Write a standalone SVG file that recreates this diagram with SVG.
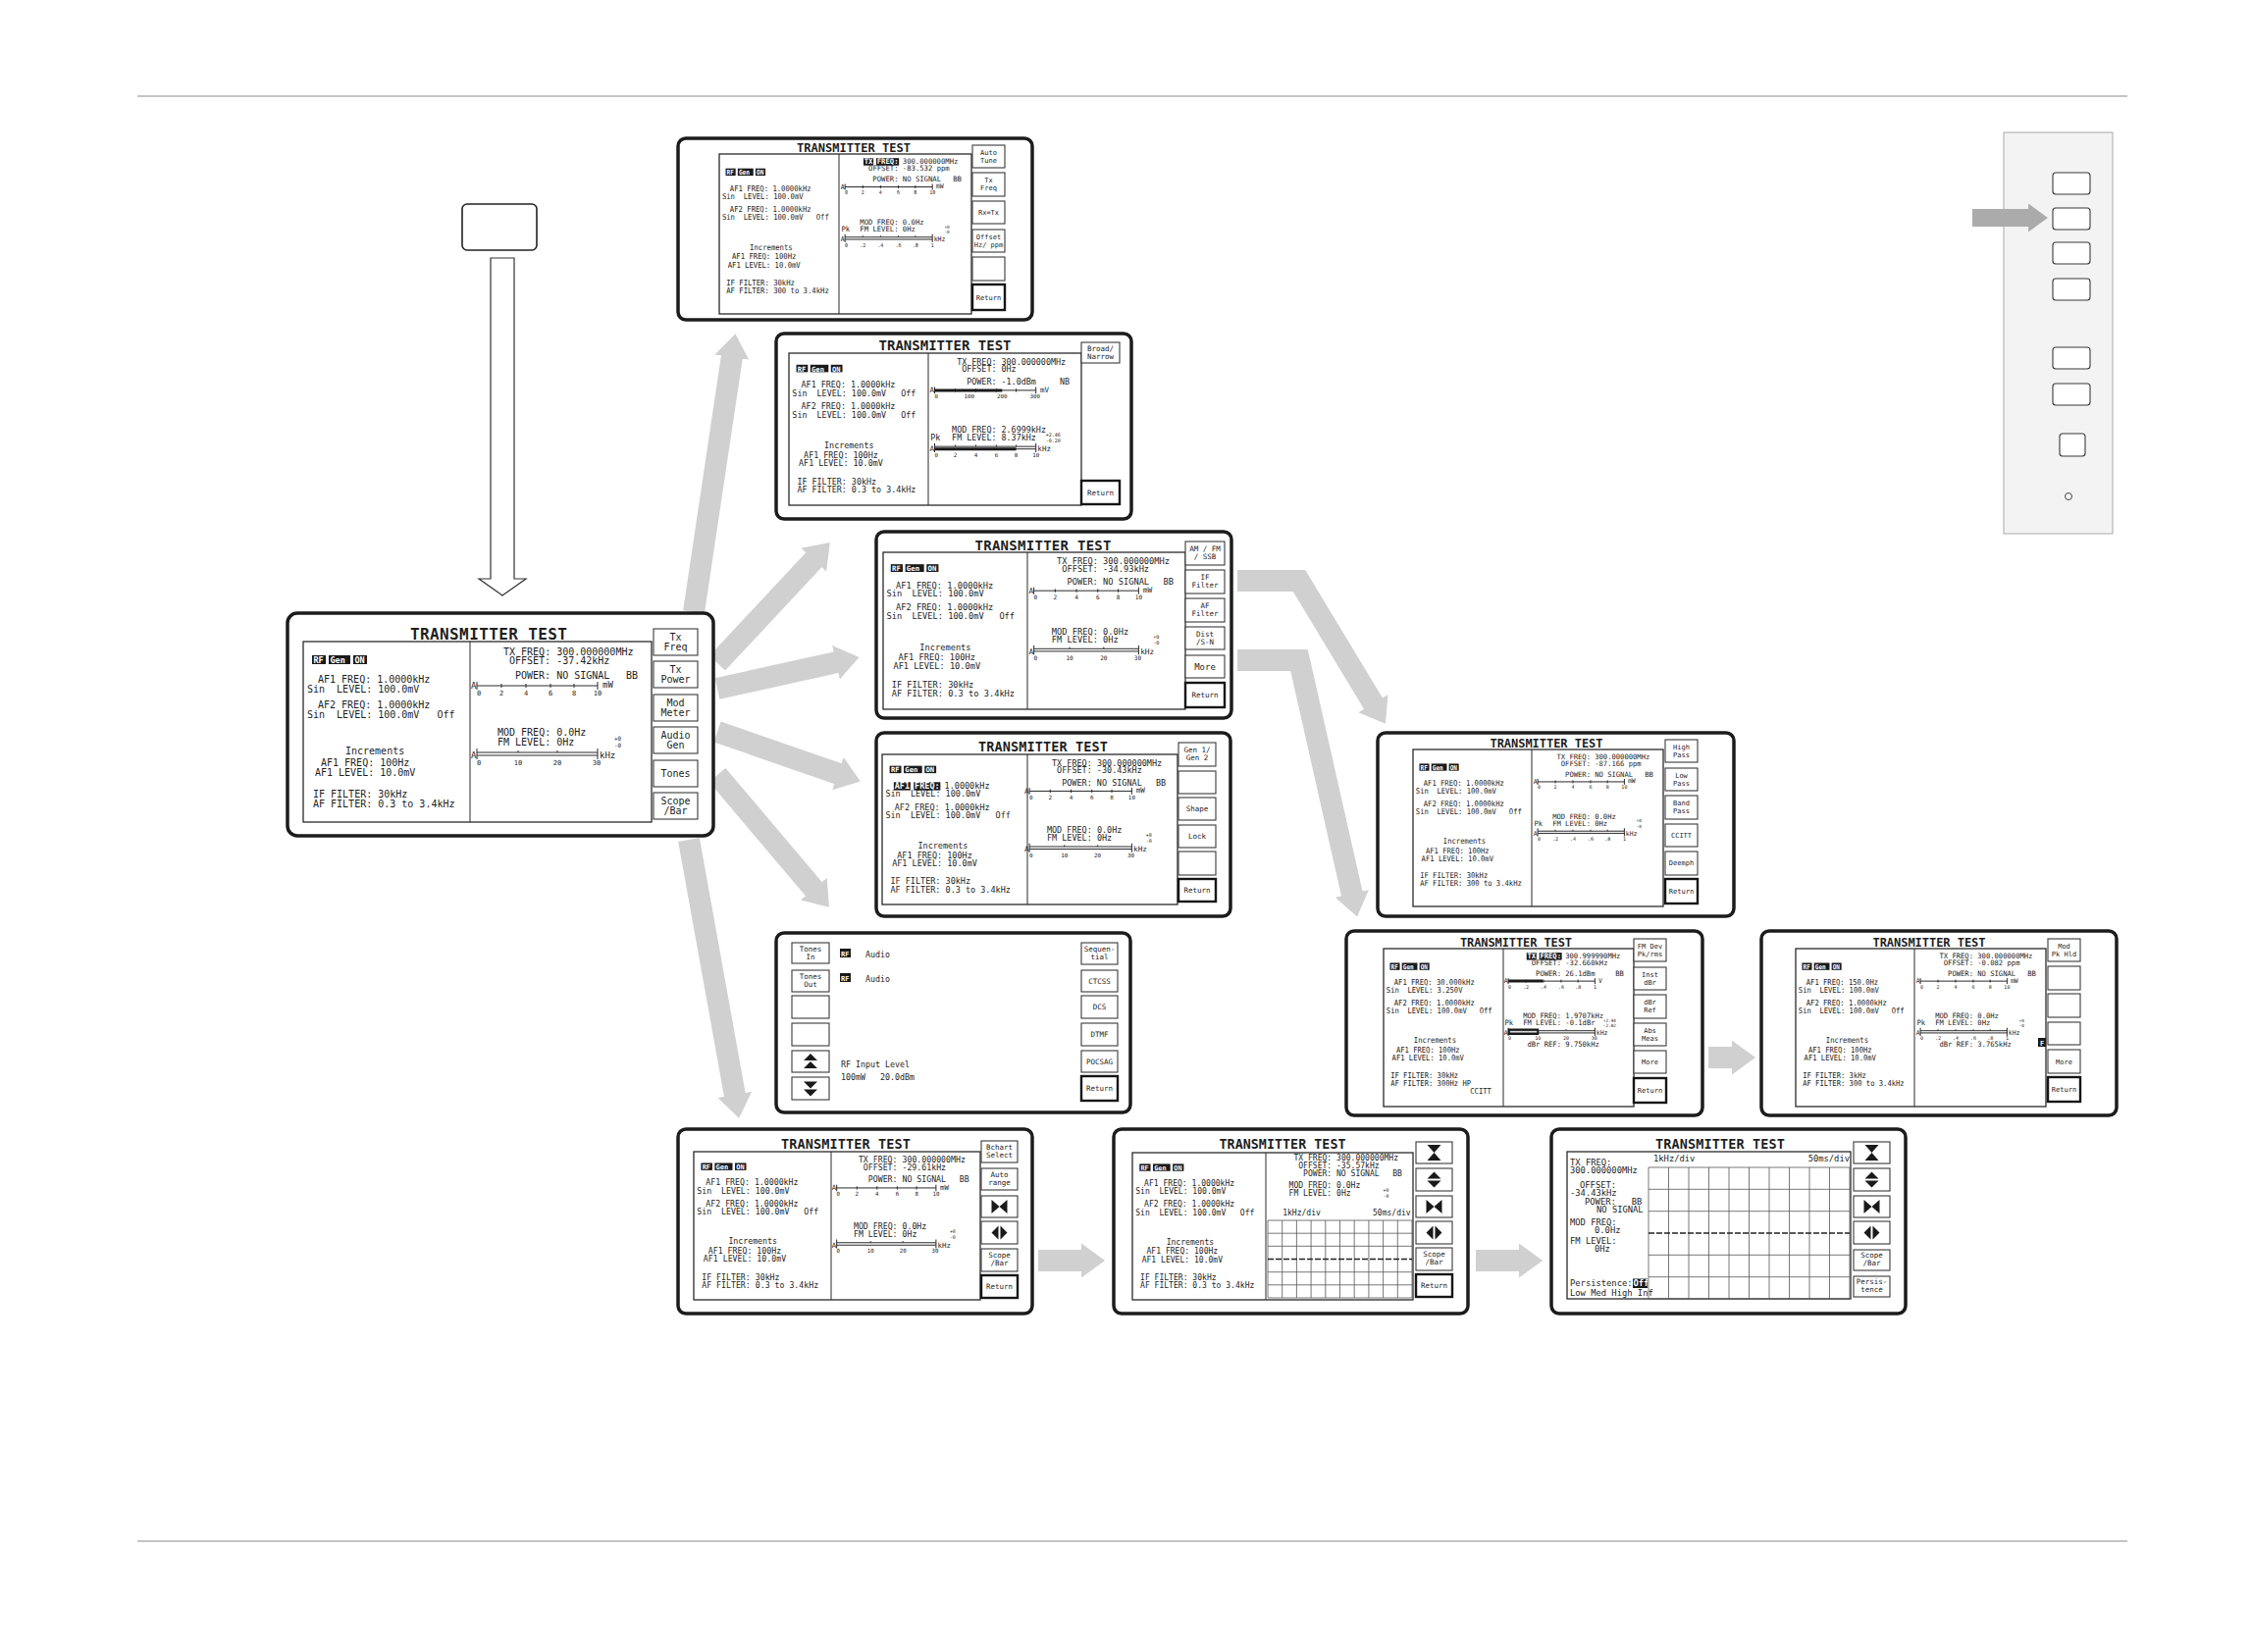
<svg xmlns="http://www.w3.org/2000/svg" width="2294" height="1684" viewBox="0 0 2294 1684">
<style>
text{font-family:"DejaVu Sans Mono","Liberation Mono",monospace;fill:#1e1e1e;white-space:pre}
.frame{fill:#fff;stroke:#1c1c1c;stroke-width:3.5}
.panel{fill:none;stroke:#2a2a2a;stroke-width:1.3}
.btn{fill:#fff;stroke:#3a3a3a;stroke-width:1.1}
.ret{fill:#fff;stroke:#151515;stroke-width:2.4}
.ttl{font-weight:bold;text-anchor:middle}
.t{font-size:10px}
.t9{font-size:8.8px}
.s{font-size:7px;text-anchor:middle}
.u{font-size:9px}
.tiny{font-size:6px}
.inv{fill:#1a1a1a}
.w{fill:#fff;font-weight:bold}
.bt{text-anchor:middle}
.f10{font-size:10px}.f9{font-size:9px}.f75{font-size:7.5px}.f7{font-size:7px}
.ln{stroke:#2a2a2a;stroke-width:1;fill:none;vector-effect:non-scaling-stroke}
.thk{stroke:#1a1a1a;stroke-width:3;fill:none;vector-effect:non-scaling-stroke}
.grid{stroke:#555;stroke-width:0.8;fill:none}
.trace{stroke:#222;stroke-width:1.3;stroke-dasharray:6 2;fill:none}
.ico{fill:#1a1a1a}
.garr{stroke:#d0d0d0;fill:none;stroke-linejoin:miter}
.rule{stroke:#8a8a8a;stroke-width:1}
</style>
<defs>
<marker id="gh" viewBox="0 0 2 2" refX="0.05" refY="1" markerWidth="2" markerHeight="2" orient="auto" markerUnits="strokeWidth">
<path d="M0,0.2 L1.1,1 L0,1.8 Z" fill="#d0d0d0"/>
</marker>
<marker id="gh2" viewBox="0 0 2 2" refX="0.05" refY="1" markerWidth="2" markerHeight="2" orient="auto" markerUnits="strokeWidth">
<path d="M0,0.2 L1.1,1 L0,1.8 Z" fill="#ababab"/>
</marker>
<g id="rfgen">
<rect class="inv" x="9" y="14" width="14" height="9"/>
<rect class="inv" x="26" y="14" width="22" height="9"/>
<rect class="inv" x="51" y="14" width="14" height="9"/>
<text class="w" style="font-size:8.5px" y="22"><tspan x="10.5">RF</tspan><tspan x="27.5">Gen</tspan><tspan x="52.5">ON</tspan></text>
</g>
<g id="af1"><text class="t" x="15" y="42">AF1 FREQ: 1.0000kHz</text><text class="t" x="4" y="52">Sin  LEVEL: 100.0mV</text></g>
<g id="af2"><text class="t" x="15" y="68">AF2 FREQ: 1.0000kHz</text><text class="t" x="4" y="78">Sin  LEVEL: 100.0mV   Off</text></g>
<g id="incr">
<text class="t" x="43" y="115">Increments</text>
<text class="t" x="18" y="127">AF1 FREQ: 100Hz</text>
<text class="t" x="12" y="137">AF1 LEVEL: 10.0mV</text>
</g>
<g id="iff"><text class="t" x="10" y="159">IF FILTER: 30kHz</text></g>
<g id="aff"><text class="t" x="10" y="169">AF FILTER: 0.3 to 3.4kHz</text></g>
<g id="txf"><text class="t" x="204" y="14">TX FREQ: 300.000000MHz</text></g>
<g id="pwr"><text class="t" x="216" y="38">POWER: NO SIGNAL</text><text class="t" x="329" y="38">BB</text></g>
<g id="pm0"><text class="tiny" x="317" y="101">+0</text><text class="tiny" x="317" y="108">-0</text></g>
<g id="mod0"><text class="t" x="198" y="96">MOD FREQ: 0.0Hz</text><text class="t" x="198" y="106">FM LEVEL: 0Hz</text><use href="#pm0"/></g>
<g id="bar1">
<text class="u" x="171" y="48">A</text>
<path class="ln" d="M177 45H300M177 41V49M300 41V49M202 43V47M227 43V47M252 43V47M276 43V47"/>
</g>
<g id="bar2">
<text class="u" x="171" y="119">A</text>
<path class="ln" d="M177 113H300M177 116H300M177 109V120M300 109V120"/>
</g>
<g id="lbmw"><text class="s" y="55"><tspan x="179">0</tspan><tspan x="202">2</tspan><tspan x="227">4</tspan><tspan x="252">6</tspan><tspan x="276">8</tspan><tspan x="300">10</tspan></text><text class="u" x="305" y="47">mW</text></g>
<g id="lb30"><path class="ln" d="M219 111V113M259 111V113"/><text class="s" y="126"><tspan x="179">0</tspan><tspan x="219">10</tspan><tspan x="259">20</tspan><tspan x="299">30</tspan></text><text class="u" x="302" y="119">kHz</text></g>
<g id="lb1"><path class="ln" d="M202 111V113M227 111V113M252 111V113M276 111V113"/><text class="s" y="126"><tspan x="179">0</tspan><tspan x="202">.2</tspan><tspan x="227">.4</tspan><tspan x="252">.6</tspan><tspan x="276">.8</tspan><tspan x="300">1</tspan></text><text class="u" x="302" y="119">kHz</text></g>
<path id="i-hg" class="ico" d="M-7,-8H7L0,0Z M-7,8H7L0,0Z"/>
<path id="i-ud" class="ico" d="M-7,-1L0,-8L7,-1Z M-7,1L0,8L7,1Z"/>
<path id="i-in" class="ico" d="M-8,-7L0,0L-8,7Z M8,-7L0,0L8,7Z"/>
<path id="i-out" class="ico" d="M-1,-7L-8,0L-1,7Z M1,-7L8,0L1,7Z"/>
<path id="i-up" class="ico" d="M-7,-1L0,-8L7,-1Z M-7,7L0,0L7,7Z"/>
<path id="i-dn" class="ico" d="M-7,1L0,8L7,1Z M-7,-7L0,0L7,-7Z"/>
</defs>

<rect width="2294" height="1684" fill="#fff"/>
<line class="rule" x1="140" y1="98" x2="2168" y2="98"/>
<line class="rule" x1="140" y1="1571" x2="2168" y2="1571"/>

<g id="panel-keys">
<rect x="2042" y="135" width="111" height="409" fill="#f3f3f3" stroke="#aaa" stroke-width="1"/>
<rect class="btn" x="2092" y="176" width="38" height="22" rx="3"/>
<rect class="btn" x="2092" y="212" width="38" height="22" rx="3"/>
<rect class="btn" x="2092" y="247" width="38" height="22" rx="3"/>
<rect class="btn" x="2092" y="284" width="38" height="22" rx="3"/>
<rect class="btn" x="2092" y="354" width="38" height="22" rx="3"/>
<rect class="btn" x="2092" y="391" width="38" height="22" rx="3"/>
<rect class="btn" x="2099" y="442" width="26" height="23" rx="3"/>
<circle cx="2108" cy="506" r="3.5" fill="none" stroke="#444" stroke-width="1"/>
</g>

<g id="connectors">
<polyline class="garr" stroke-width="22" points="707,624 746,363" marker-end="url(#gh)"/>
<polyline class="garr" stroke-width="22" points="731,676 830,570" marker-end="url(#gh)"/>
<polyline class="garr" stroke-width="22" points="731,702 853,675" marker-end="url(#gh)"/>
<polyline class="garr" stroke-width="22" points="731,746 855,789" marker-end="url(#gh)"/>
<polyline class="garr" stroke-width="22" points="731,790 830,907" marker-end="url(#gh)"/>
<polyline class="garr" stroke-width="22" points="702,856 749,1117" marker-end="url(#gh)"/>
<polyline class="garr" stroke-width="22" points="1261,592 1324,592 1400,718" marker-end="url(#gh)"/>
<polyline class="garr" stroke-width="22" points="1261,673 1324,673 1378,912" marker-end="url(#gh)"/>
<polyline class="garr" stroke-width="22" points="1741,1078 1766,1078" marker-end="url(#gh)"/>
<polyline class="garr" stroke-width="22" points="1058,1285 1103,1285" marker-end="url(#gh)"/>
<polyline class="garr" stroke-width="22" points="1504,1285 1549,1285" marker-end="url(#gh)"/>
<polygon points="500,263 524,263 524,590 536,590 512,607 488,590 500,590" fill="#fff" stroke="#333" stroke-width="1.2"/>
<polyline stroke="#ababab" fill="none" stroke-width="18" points="2010,222 2068,222" marker-end="url(#gh2)"/>
</g>

<g id="key">
<rect x="471" y="208" width="76" height="47" rx="5" fill="#fff" stroke="#222" stroke-width="1.6"/>
</g>

<!-- S0 main -->
<g id="s0">
<rect class="frame" x="293" y="625" width="434" height="227" rx="10"/>
<text class="ttl" x="498" y="652" style="font-size:16px" textLength="160">TRANSMITTER TEST</text>
<rect class="panel" x="309" y="654" width="355" height="184"/>
<line class="ln" x1="479" y1="654" x2="479" y2="838"/>
<rect class="btn" x="666" y="641" width="45" height="27"/>
<rect class="btn" x="666" y="674" width="45" height="27"/>
<rect class="btn" x="666" y="708" width="45" height="27"/>
<rect class="btn" x="666" y="741" width="45" height="27"/>
<rect class="btn" x="666" y="775" width="45" height="27"/>
<rect class="btn" x="666" y="808" width="45" height="27"/>
<text class="bt f10"><tspan x="688.5" y="653">Tx</tspan><tspan x="688.5" y="663">Freq</tspan><tspan x="688.5" y="686">Tx</tspan><tspan x="688.5" y="696">Power</tspan><tspan x="688.5" y="720">Mod</tspan><tspan x="688.5" y="730">Meter</tspan><tspan x="688.5" y="753">Audio</tspan><tspan x="688.5" y="763">Gen</tspan><tspan x="688.5" y="792">Tones</tspan><tspan x="688.5" y="820">Scope</tspan><tspan x="688.5" y="830">/Bar</tspan></text>
<g transform="translate(309,654)">
<use href="#rfgen"/><use href="#af1"/><use href="#af2"/><use href="#incr"/><use href="#iff"/><use href="#aff"/>
<use href="#txf"/><text class="t" x="210" y="23">OFFSET: -37.42kHz</text><use href="#pwr"/><use href="#bar1"/><use href="#lbmw"/><use href="#mod0"/><use href="#bar2"/><use href="#lb30"/>
</g>
</g>

<!-- S2 Tx Freq -->
<g id="s2">
<rect class="frame" x="691" y="141" width="361" height="185" rx="8"/>
<text class="ttl" x="870" y="155" style="font-size:12px" textLength="116">TRANSMITTER TEST</text>
<rect class="panel" x="733" y="157" width="257" height="163"/>
<line class="ln" x1="855" y1="157" x2="855" y2="320"/>
<rect class="btn" x="991" y="148" width="33" height="23"/>
<rect class="btn" x="991" y="176" width="33" height="24"/>
<rect class="btn" x="991" y="205" width="33" height="23"/>
<rect class="btn" x="991" y="234" width="33" height="23"/>
<rect class="btn" x="991" y="262" width="33" height="24"/>
<rect class="ret" x="991" y="290" width="33" height="26"/>
<text class="bt f7"><tspan x="1007.5" y="158">Auto</tspan><tspan x="1007.5" y="166">Tune</tspan><tspan x="1007.5" y="186">Tx</tspan><tspan x="1007.5" y="194">Freq</tspan><tspan x="1007.5" y="219">Rx=Tx</tspan><tspan x="1007.5" y="244">Offset</tspan><tspan x="1007.5" y="252">Hz/ ppm</tspan><tspan x="1007.5" y="305.5">Return</tspan></text>
<g transform="translate(733,157) scale(.724,.886)">
<g transform="translate(0,3.6) scale(1,.927)"><use href="#rfgen"/><use href="#af1"/><use href="#af2"/><use href="#incr"/><use href="#iff"/><text class="t" x="10" y="169">AF FILTER: 300 to 3.4kHz</text></g>
<g transform="translate(0,-0.4) scale(1,.85)">
<rect class="inv" x="203" y="6" width="14" height="10"/><rect class="inv" x="221" y="6" width="32" height="10"/>
<text class="t w" x="204" y="14">TX FREQ:</text><text class="t" x="258" y="14">300.000000MHz</text>
<text class="t" x="210" y="23">OFFSET: -83.532 ppm</text><use href="#pwr"/><use href="#bar1"/><use href="#lbmw"/>
<text class="t" x="172" y="106">Pk</text><use href="#mod0"/><use href="#bar2"/><use href="#lb1"/>
</g>
</g>
</g>

<!-- S3 Tx Power -->
<g id="s3">
<rect class="frame" x="791" y="340" width="362" height="189" rx="8"/>
<text class="ttl" x="963" y="357" style="font-size:14px" textLength="135">TRANSMITTER TEST</text>
<rect class="panel" x="804" y="360" width="298" height="155"/>
<line class="ln" x1="946" y1="360" x2="946" y2="515"/>
<rect class="btn" x="1102" y="349" width="39" height="21"/>
<rect class="ret" x="1102" y="490" width="39" height="24"/>
<text class="bt f75"><tspan x="1121.5" y="358">Broad/</tspan><tspan x="1121.5" y="366">Narrow</tspan><tspan x="1121.5" y="505">Return</tspan></text>
<g transform="translate(804,360) scale(.839,.842)">
<use href="#rfgen"/><text class="t" x="15" y="42">AF1 FREQ: 1.0000kHz</text><text class="t" x="4" y="52">Sin  LEVEL: 100.0mV   Off</text><use href="#af2"/><use href="#incr"/><use href="#iff"/><use href="#aff"/>
<use href="#txf"/><text class="t" x="210" y="23">OFFSET: 0Hz</text><text class="t" x="216" y="38">POWER: -1.0dBm</text><text class="t" x="329" y="38">NB</text>
<use href="#bar1"/><path class="thk" d="M177 45H259"/>
<text class="s" y="55"><tspan x="179">0</tspan><tspan x="219">100</tspan><tspan x="259">200</tspan><tspan x="299">300</tspan></text><text class="u" x="305" y="47">mV</text>
<text class="t" x="198" y="96">MOD FREQ: 2.6999kHz</text><text class="t" x="172" y="106">Pk</text><text class="t" x="198" y="106">FM LEVEL: 8.37kHz</text>
<text class="tiny" x="312" y="101">+2.46</text><text class="tiny" x="312" y="108">-0.20</text>
<use href="#bar2"/><path class="thk" d="M177 116H276"/><path class="ln" d="M202 111V113M227 111V113M252 111V113M276 111V113"/>
<text class="s" y="126"><tspan x="179">0</tspan><tspan x="202">2</tspan><tspan x="227">4</tspan><tspan x="252">6</tspan><tspan x="276">8</tspan><tspan x="300">10</tspan></text><text class="u" x="302" y="119">kHz</text>
</g>
</g>

<!-- S4 Mod Meter -->
<g id="s4">
<rect class="frame" x="893" y="542" width="362" height="190" rx="8"/>
<text class="ttl" x="1063" y="561" style="font-size:14px" textLength="139">TRANSMITTER TEST</text>
<rect class="panel" x="900" y="563" width="308" height="160"/>
<line class="ln" x1="1047" y1="563" x2="1047" y2="723"/>
<rect class="btn" x="1208" y="552" width="40" height="24"/>
<rect class="btn" x="1208" y="581" width="40" height="24"/>
<rect class="btn" x="1208" y="610" width="40" height="24"/>
<rect class="btn" x="1208" y="639" width="40" height="23"/>
<rect class="btn" x="1208" y="668" width="40" height="23"/>
<rect class="ret" x="1208" y="696" width="40" height="25"/>
<text class="bt f75"><tspan x="1228" y="562">AM / FM</tspan><tspan x="1228" y="570">/ SSB</tspan><tspan x="1228" y="591">IF</tspan><tspan x="1228" y="599">Filter</tspan><tspan x="1228" y="620">AF</tspan><tspan x="1228" y="628">Filter</tspan><tspan x="1228" y="649">Dist</tspan><tspan x="1228" y="657">/S-N</tspan><tspan x="1228" y="711">Return</tspan></text>
<text class="bt f9" x="1228" y="682.5">More</text>
<g transform="translate(900,563) scale(.868,.870)">
<use href="#rfgen"/><use href="#af1"/><use href="#af2"/><use href="#incr"/><use href="#iff"/><use href="#aff"/>
<use href="#txf"/><text class="t" x="210" y="23">OFFSET: -34.93kHz</text><use href="#pwr"/><use href="#bar1"/><use href="#lbmw"/><use href="#mod0"/><use href="#bar2"/><use href="#lb30"/>
</g>
</g>

<!-- S5 Audio Gen -->
<g id="s5">
<rect class="frame" x="893" y="747" width="361" height="187" rx="8"/>
<text class="ttl" x="1063" y="766" style="font-size:13.5px" textLength="132">TRANSMITTER TEST</text>
<rect class="panel" x="899" y="769" width="301" height="153"/>
<line class="ln" x1="1047" y1="769" x2="1047" y2="922"/>
<rect class="btn" x="1201" y="757" width="38" height="24"/>
<rect class="btn" x="1201" y="786" width="38" height="23"/>
<rect class="btn" x="1201" y="813" width="38" height="23"/>
<rect class="btn" x="1201" y="841" width="38" height="23"/>
<rect class="btn" x="1201" y="868" width="38" height="24"/>
<rect class="ret" x="1201" y="896" width="38" height="23"/>
<text class="bt f75"><tspan x="1220" y="767">Gen 1/</tspan><tspan x="1220" y="775">Gen 2</tspan><tspan x="1220" y="827">Shape</tspan><tspan x="1220" y="855">Lock</tspan><tspan x="1220" y="910">Return</tspan></text>
<g transform="translate(899,769) scale(.848,.832)">
<use href="#rfgen"/>
<rect class="inv" x="14" y="34" width="20" height="10"/><rect class="inv" x="38" y="34" width="32" height="10"/>
<text class="t w" x="15" y="42">AF1 FREQ:</text><text class="t" x="75" y="42">1.0000kHz</text><text class="t" x="4" y="52">Sin  LEVEL: 100.0mV</text>
<use href="#af2"/><use href="#incr"/><use href="#iff"/><use href="#aff"/>
<use href="#txf"/><text class="t" x="210" y="23">OFFSET: -30.43kHz</text><use href="#pwr"/><use href="#bar1"/><use href="#lbmw"/><use href="#mod0"/><use href="#bar2"/><use href="#lb30"/>
</g>
</g>

<!-- S6 Tones -->
<g id="s6">
<rect class="frame" x="791" y="951" width="361" height="183" rx="8"/>
<rect class="btn" x="807" y="961" width="38" height="21"/>
<rect class="btn" x="807" y="989" width="38" height="22"/>
<rect class="btn" x="807" y="1015" width="38" height="23"/>
<rect class="btn" x="807" y="1043" width="38" height="23"/>
<rect class="btn" x="807" y="1071" width="38" height="22"/>
<rect class="btn" x="807" y="1098" width="38" height="23"/>
<use href="#i-up" x="826" y="1082"/>
<use href="#i-dn" x="826" y="1109.5"/>
<rect class="btn" x="1102" y="961" width="37" height="22"/>
<rect class="btn" x="1102" y="989" width="37" height="22"/>
<rect class="btn" x="1102" y="1015" width="37" height="23"/>
<rect class="btn" x="1102" y="1043" width="37" height="23"/>
<rect class="btn" x="1102" y="1071" width="37" height="22"/>
<rect class="ret" x="1102" y="1097" width="37" height="25"/>
<text class="bt f75"><tspan x="826" y="970">Tones</tspan><tspan x="826" y="978">In</tspan><tspan x="826" y="998">Tones</tspan><tspan x="826" y="1006">Out</tspan><tspan x="1120.5" y="970">Sequen-</tspan><tspan x="1120.5" y="978">tial</tspan><tspan x="1120.5" y="1002.5">CTCSS</tspan><tspan x="1120.5" y="1029">DCS</tspan><tspan x="1120.5" y="1057">DTMF</tspan><tspan x="1120.5" y="1084.5">POCSAG</tspan><tspan x="1120.5" y="1112">Return</tspan></text>
<rect class="inv" x="856" y="967" width="11" height="9"/>
<rect class="inv" x="856" y="992" width="11" height="9"/>
<text class="w" style="font-size:7px"><tspan x="857" y="974.5">RF</tspan><tspan x="857" y="999.5">RF</tspan></text>
<text style="font-size:8.3px"><tspan x="882" y="976">Audio</tspan><tspan x="882" y="1001">Audio</tspan><tspan x="857" y="1088">RF Input Level</tspan><tspan x="857" y="1101">100mW   20.0dBm</tspan></text>
</g>

<!-- S7 Scope/Bar -->
<g id="s7">
<rect class="frame" x="691" y="1151" width="361" height="188" rx="8"/>
<text class="ttl" x="862" y="1171" style="font-size:13.5px" textLength="132">TRANSMITTER TEST</text>
<rect class="panel" x="707" y="1174" width="292" height="151"/>
<line class="ln" x1="847" y1="1174" x2="847" y2="1325"/>
<rect class="btn" x="1000" y="1163" width="37" height="22"/>
<rect class="btn" x="1000" y="1191" width="37" height="22"/>
<rect class="btn" x="1000" y="1219" width="37" height="22"/>
<rect class="btn" x="1000" y="1245" width="37" height="23"/>
<rect class="btn" x="1000" y="1273" width="37" height="23"/>
<rect class="ret" x="1000" y="1300" width="37" height="23"/>
<use href="#i-in" x="1018.5" y="1230"/>
<use href="#i-out" x="1018.5" y="1256.5"/>
<text class="bt f75"><tspan x="1018.5" y="1172">Bchart</tspan><tspan x="1018.5" y="1180">Select</tspan><tspan x="1018.5" y="1200">Auto</tspan><tspan x="1018.5" y="1208">range</tspan><tspan x="1018.5" y="1282">Scope</tspan><tspan x="1018.5" y="1290">/Bar</tspan><tspan x="1018.5" y="1314">Return</tspan></text>
<g transform="translate(707,1174) scale(.823,.821)">
<use href="#rfgen"/><use href="#af1"/><use href="#af2"/><use href="#incr"/><use href="#iff"/><use href="#aff"/>
<use href="#txf"/><text class="t" x="210" y="23">OFFSET: -29.61kHz</text><use href="#pwr"/><use href="#bar1"/><use href="#lbmw"/><use href="#mod0"/><use href="#bar2"/><use href="#lb30"/>
</g>
</g>

<!-- S8 Scope -->
<g id="s8">
<rect class="frame" x="1135" y="1151" width="361" height="188" rx="8"/>
<text class="ttl" x="1307" y="1171" style="font-size:13.3px" textLength="129">TRANSMITTER TEST</text>
<rect class="panel" x="1154" y="1175" width="286" height="150"/>
<line class="ln" x1="1290" y1="1175" x2="1290" y2="1325"/>
<rect class="btn" x="1443" y="1164" width="37" height="22"/>
<rect class="btn" x="1443" y="1191" width="37" height="23"/>
<rect class="btn" x="1443" y="1219" width="37" height="22"/>
<rect class="btn" x="1443" y="1245" width="37" height="23"/>
<rect class="btn" x="1443" y="1272" width="37" height="23"/>
<rect class="ret" x="1443" y="1299" width="37" height="23"/>
<use href="#i-hg" x="1461.5" y="1175"/>
<use href="#i-ud" x="1461.5" y="1202.5"/>
<use href="#i-in" x="1461.5" y="1230"/>
<use href="#i-out" x="1461.5" y="1256.5"/>
<text class="bt f75"><tspan x="1461.5" y="1281">Scope</tspan><tspan x="1461.5" y="1289">/Bar</tspan><tspan x="1461.5" y="1313">Return</tspan></text>
<g transform="translate(1154,1175) scale(.806,.815)">
<use href="#rfgen"/><use href="#af1"/><use href="#af2"/><use href="#incr"/><use href="#iff"/><use href="#aff"/>
<text class="t" x="204" y="10">TX FREQ: 300.000000MHz</text><text class="t" x="210" y="19.6">OFFSET: -35.57kHz</text>
<text class="t" x="216" y="29.4">POWER: NO SIGNAL</text><text class="t" x="329" y="29.4">BB</text>
<text class="t" x="198" y="44">MOD FREQ: 0.0Hz</text><text class="t" x="198" y="54">FM LEVEL: 0Hz</text>
<text class="tiny" x="317" y="49">+0</text><text class="tiny" x="317" y="56">-0</text>
<text class="t" x="190" y="78.5">1kHz/div</text><text class="t" x="352" y="78.5" text-anchor="end">50ms/div</text>
</g>
<path class="grid" d="M1292 1244V1323M1306.7 1244V1323M1321.4 1244V1323M1336.1 1244V1323M1350.8 1244V1323M1365.5 1244V1323M1380.2 1244V1323M1394.9 1244V1323M1409.6 1244V1323M1424.3 1244V1323M1439 1244V1323M1292 1244H1439M1292 1257.2H1439M1292 1270.3H1439M1292 1296.7H1439M1292 1309.8H1439M1292 1323H1439"/>
<path class="trace" d="M1292 1283.5H1439"/>
</g>

<!-- S9 Scope full -->
<g id="s9">
<rect class="frame" x="1581" y="1151" width="361" height="188" rx="8"/>
<text class="ttl" x="1753" y="1171" style="font-size:13.5px" textLength="132">TRANSMITTER TEST</text>
<rect class="panel" x="1597" y="1174" width="289" height="150"/>
<rect class="btn" x="1889" y="1164" width="37" height="22"/>
<rect class="btn" x="1889" y="1191" width="37" height="23"/>
<rect class="btn" x="1889" y="1219" width="37" height="22"/>
<rect class="btn" x="1889" y="1245" width="37" height="23"/>
<rect class="btn" x="1889" y="1274" width="37" height="21"/>
<rect class="btn" x="1889" y="1301" width="37" height="21"/>
<use href="#i-hg" x="1907.5" y="1175"/>
<use href="#i-ud" x="1907.5" y="1202.5"/>
<use href="#i-in" x="1907.5" y="1230"/>
<use href="#i-out" x="1907.5" y="1256.5"/>
<text class="bt f75"><tspan x="1907.5" y="1282">Scope</tspan><tspan x="1907.5" y="1290">/Bar</tspan><tspan x="1907.5" y="1309">Persis-</tspan><tspan x="1907.5" y="1317">tence</tspan></text>
<text class="t9"><tspan x="1600" y="1188">TX FREQ:</tspan><tspan x="1600" y="1196">300.000000MHz</tspan><tspan x="1610" y="1211">OFFSET:</tspan><tspan x="1600" y="1219">-34.43kHz</tspan><tspan x="1615" y="1228">POWER:   BB</tspan><tspan x="1627" y="1236">NO SIGNAL</tspan><tspan x="1600" y="1249">MOD FREQ:</tspan><tspan x="1625" y="1257">0.0Hz</tspan><tspan x="1600" y="1268">FM LEVEL:</tspan><tspan x="1625" y="1276">0Hz</tspan><tspan x="1600" y="1311">Persistence:</tspan><tspan x="1600" y="1321">Low Med High Inf</tspan></text>
<rect class="inv" x="1664" y="1303.5" width="15" height="9.5"/>
<text class="t9 w" x="1664.5" y="1311">Off</text>
<text class="t9"><tspan x="1685" y="1184">1kHz/div</tspan></text><text class="t9" x="1885" y="1184" text-anchor="end">50ms/div</text>
<path class="grid" d="M1680 1190V1324M1700.5 1190V1324M1721 1190V1324M1741.5 1190V1324M1762 1190V1324M1782.5 1190V1324M1803 1190V1324M1823.5 1190V1324M1844 1190V1324M1864.5 1190V1324M1885 1190V1324M1680 1190H1885M1680 1212.3H1885M1680 1234.7H1885M1680 1279.3H1885M1680 1301.7H1885M1680 1324H1885"/>
<path class="trace" d="M1680 1257H1885"/>
</g>

<!-- S10 Filters -->
<g id="s10">
<rect class="frame" x="1404" y="747" width="363" height="187" rx="8"/>
<text class="ttl" x="1576" y="762" style="font-size:12px" textLength="115">TRANSMITTER TEST</text>
<rect class="panel" x="1440" y="764" width="255" height="160"/>
<line class="ln" x1="1561" y1="764" x2="1561" y2="924"/>
<rect class="btn" x="1697" y="754" width="33" height="23"/>
<rect class="btn" x="1697" y="783" width="33" height="23"/>
<rect class="btn" x="1697" y="811" width="33" height="24"/>
<rect class="btn" x="1697" y="840" width="33" height="23"/>
<rect class="btn" x="1697" y="868" width="33" height="24"/>
<rect class="ret" x="1697" y="896" width="33" height="25"/>
<text class="bt f7"><tspan x="1713.5" y="764">High</tspan><tspan x="1713.5" y="772">Pass</tspan><tspan x="1713.5" y="793">Low</tspan><tspan x="1713.5" y="801">Pass</tspan><tspan x="1713.5" y="821">Band</tspan><tspan x="1713.5" y="829">Pass</tspan><tspan x="1713.5" y="854">CCITT</tspan><tspan x="1713.5" y="882">Deemph</tspan><tspan x="1713.5" y="911">Return</tspan></text>
<g transform="translate(1440,764) scale(.718,.870)">
<g transform="translate(0,3.6) scale(1,.927)"><use href="#rfgen"/><use href="#af1"/><use href="#af2"/><use href="#incr"/><use href="#iff"/><text class="t" x="10" y="169">AF FILTER: 300 to 3.4kHz</text></g>
<g transform="translate(0,-0.4) scale(1,.85)">
<use href="#txf"/><text class="t" x="210" y="23">OFFSET: -87.166 ppm</text><use href="#pwr"/><use href="#bar1"/><use href="#lbmw"/>
<text class="t" x="172" y="106">Pk</text><use href="#mod0"/><use href="#bar2"/><use href="#lb1"/>
</g>
</g>
</g>

<!-- S11 FM Dev -->
<g id="s11">
<rect class="frame" x="1372" y="949" width="363" height="188" rx="8"/>
<text class="ttl" x="1545" y="965" style="font-size:12px" textLength="114">TRANSMITTER TEST</text>
<rect class="panel" x="1410" y="967" width="255" height="161"/>
<line class="ln" x1="1532" y1="967" x2="1532" y2="1128"/>
<rect class="btn" x="1665" y="957" width="33" height="23"/>
<rect class="btn" x="1665" y="986" width="33" height="23"/>
<rect class="btn" x="1665" y="1014" width="33" height="24"/>
<rect class="btn" x="1665" y="1043" width="33" height="23"/>
<rect class="btn" x="1665" y="1071" width="33" height="23"/>
<rect class="ret" x="1665" y="1099" width="33" height="25"/>
<text class="bt f7"><tspan x="1681.5" y="967">FM Dev</tspan><tspan x="1681.5" y="975">Pk/rms</tspan><tspan x="1681.5" y="996">Inst</tspan><tspan x="1681.5" y="1004">dBr</tspan><tspan x="1681.5" y="1024">dBr</tspan><tspan x="1681.5" y="1032">Ref</tspan><tspan x="1681.5" y="1053">Abs</tspan><tspan x="1681.5" y="1061">Meas</tspan><tspan x="1681.5" y="1085">More</tspan><tspan x="1681.5" y="1114">Return</tspan></text>
<g transform="translate(1410,967) scale(.718,.875)">
<g transform="translate(0,3.6) scale(1,.927)"><use href="#rfgen"/><text class="t" x="15" y="42">AF1 FREQ: 30.000kHz</text><text class="t" x="4" y="52">Sin  LEVEL: 3.250V</text><use href="#af2"/><use href="#incr"/><use href="#iff"/><text class="t" x="10" y="169">AF FILTER: 300Hz HP</text><text class="t" x="123" y="178">CCITT</text></g>
<g transform="translate(0,-0.4) scale(1,.85)">
<rect class="inv" x="203" y="6" width="14" height="10"/><rect class="inv" x="221" y="6" width="32" height="10"/>
<text class="t w" x="204" y="14">TX FREQ:</text><text class="t" x="258" y="14">300.999990MHz</text>
<text class="t" x="210" y="23">OFFSET: -32.660kHz</text><text class="t" x="216" y="38">POWER: 26.1dBm</text><text class="t" x="329" y="38">BB</text>
<use href="#bar1"/><path class="thk" d="M177 45H226"/>
<text class="s" y="55"><tspan x="179">0</tspan><tspan x="202">.2</tspan><tspan x="227">.4</tspan><tspan x="252">.6</tspan><tspan x="276">.8</tspan><tspan x="300">1</tspan></text><text class="u" x="305" y="47">V</text>
<text class="t" x="198" y="96">MOD FREQ: 1.9707kHz</text><text class="t" x="172" y="106">Pk</text><text class="t" x="198" y="106">FM LEVEL: -0.1dBr</text>
<text class="tiny" x="312" y="101">+2.94</text><text class="tiny" x="312" y="108">-2.82</text>
<use href="#bar2"/><rect x="178" y="111.5" width="41" height="6" fill="none" stroke="#1a1a1a" stroke-width="2" vector-effect="non-scaling-stroke"/><use href="#lb30"/>
<text class="t" x="204" y="135">dBr REF: 9.750kHz</text>
</g>
</g>
</g>

<!-- S12 Mod Pk Hld -->
<g id="s12">
<rect class="frame" x="1795" y="949" width="362" height="188" rx="8"/>
<text class="ttl" x="1966" y="965" style="font-size:12px" textLength="115">TRANSMITTER TEST</text>
<rect class="panel" x="1830" y="967" width="255" height="161"/>
<line class="ln" x1="1951" y1="967" x2="1951" y2="1128"/>
<rect class="btn" x="2087" y="957" width="33" height="23"/>
<rect class="btn" x="2087" y="985" width="33" height="24"/>
<rect class="btn" x="2087" y="1013" width="33" height="24"/>
<rect class="btn" x="2087" y="1042" width="33" height="23"/>
<rect class="btn" x="2087" y="1070" width="33" height="24"/>
<rect class="ret" x="2087" y="1098" width="33" height="25"/>
<text class="bt f7"><tspan x="2103.5" y="967">Mod</tspan><tspan x="2103.5" y="975">Pk Hld</tspan><tspan x="2103.5" y="1084.5">More</tspan><tspan x="2103.5" y="1113">Return</tspan></text>
<g transform="translate(1830,967) scale(.718,.875)">
<g transform="translate(0,3.6) scale(1,.927)"><use href="#rfgen"/><text class="t" x="15" y="42">AF1 FREQ: 150.0Hz</text><text class="t" x="4" y="52">Sin  LEVEL: 100.0mV</text><use href="#af2"/><use href="#incr"/><text class="t" x="10" y="159">IF FILTER: 3kHz</text><text class="t" x="10" y="169">AF FILTER: 300 to 3.4kHz</text></g>
<g transform="translate(0,-0.4) scale(1,.85)">
<use href="#txf"/><text class="t" x="210" y="23">OFFSET: -0.082 ppm</text><use href="#pwr"/><use href="#bar1"/><use href="#lbmw"/>
<text class="t" x="172" y="106">Pk</text><use href="#mod0"/><use href="#bar2"/><use href="#lb1"/>
<text class="t" x="204" y="135">dBr REF: 3.765kHz</text>
</g>
</g>
<rect class="inv" x="2077" y="1058" width="8" height="9"/>
<text class="w" style="font-size:7px" x="2079" y="1065.5">F</text>
</g>
</svg>
